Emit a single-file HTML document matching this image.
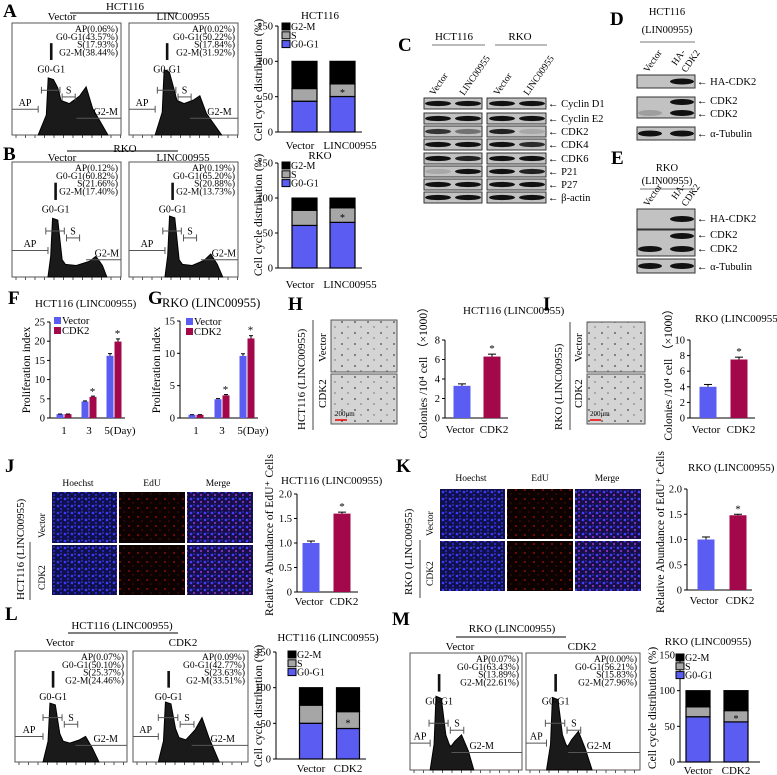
<!DOCTYPE html>
<html><head><meta charset="utf-8"><style>
html,body{margin:0;padding:0;background:#fff;}
svg{display:block;font-family:"Liberation Serif",serif;}
.pl{font-weight:bold;font-size:19px;}
.t{font-size:11px;}
.s{font-size:9.5px;}
.bl{fill:#c2c2c2;stroke:#333;stroke-width:1;}
</style></head><body>
<svg id="fig" width="777" height="775" viewBox="0 0 777 775" xmlns="http://www.w3.org/2000/svg">
<defs>
<pattern id="pBlue" width="7" height="7" patternUnits="userSpaceOnUse"><rect width="7" height="7" fill="#10104a"/><circle cx="2" cy="2" r="1.3" fill="#3a3aff"/><circle cx="5" cy="5" r="1.1" fill="#2828d0"/><circle cx="5" cy="1" r="0.8" fill="#4a4af0"/></pattern>
<pattern id="pRed" width="9" height="9" patternUnits="userSpaceOnUse"><rect width="9" height="9" fill="#0c0202"/><circle cx="3" cy="4" r="0.9" fill="#b01010"/><circle cx="7" cy="8" r="0.6" fill="#801010"/></pattern>
<pattern id="pMerge" width="7" height="7" patternUnits="userSpaceOnUse"><rect width="7" height="7" fill="#15104a"/><circle cx="2" cy="2" r="1.3" fill="#4a3aff"/><circle cx="5" cy="5" r="1.1" fill="#9030c0"/><circle cx="5" cy="1" r="0.8" fill="#3a3ae0"/></pattern>
<pattern id="pCol" width="13" height="11" patternUnits="userSpaceOnUse"><rect width="13" height="11" fill="#d4d4d4"/><circle cx="4" cy="3" r="0.9" fill="#444"/><circle cx="10" cy="8" r="0.7" fill="#666"/></pattern>
</defs>

<text class="pl" x="3" y="17">A</text>
<text class="pl" x="3" y="160">B</text>
<text class="pl" x="398" y="51">C</text>
<text class="pl" x="610" y="25">D</text>
<text class="pl" x="611" y="164">E</text>
<text class="pl" x="8" y="304">F</text>
<text class="pl" x="148" y="304">G</text>
<text class="pl" x="288" y="310">H</text>
<text class="pl" x="543" y="310">I</text>
<text class="pl" x="5" y="472">J</text>
<text class="pl" x="396" y="472">K</text>
<text class="pl" x="5" y="620">L</text>
<text class="pl" x="392" y="625">M</text>

<text class="t" x="125" y="10" text-anchor="middle">HCT116</text>
<line x1="70" y1="13" x2="178" y2="13" stroke="#000"/>
<text class="t" x="62" y="20" text-anchor="middle">Vector</text>
<text class="t" x="183" y="20" text-anchor="middle">LINC00955</text>
<text class="t" x="125" y="152" text-anchor="middle">RKO</text>
<line x1="67" y1="151" x2="178" y2="151" stroke="#000"/>
<text class="t" x="62" y="161" text-anchor="middle">Vector</text>
<text class="t" x="183" y="161" text-anchor="middle">LINC00955</text>

<text class="t" x="454" y="40" text-anchor="middle">HCT116</text>
<line x1="432" y1="45" x2="485" y2="45" stroke="#777"/>
<text class="t" x="520" y="40" text-anchor="middle">RKO</text>
<line x1="495" y1="45" x2="547" y2="45" stroke="#777"/>
<text class="s" transform="translate(434,96) rotate(-55)">Vector</text>
<text class="s" transform="translate(464,96) rotate(-55)">LINC00955</text>
<text class="s" transform="translate(498,96) rotate(-55)">Vector</text>
<text class="s" transform="translate(528,96) rotate(-55)">LINC00955</text>
<g id="cBlots"></g>

<text x="667" y="15" font-size="10.5" text-anchor="middle">HCT116</text>
<text x="667" y="33" font-size="10.5" text-anchor="middle">(LIN00955)</text>
<line x1="640" y1="42" x2="695" y2="42" stroke="#777"/>
<text class="s" transform="translate(648,73) rotate(-55)">Vector</text>
<text class="s" transform="translate(676,66) rotate(-55)">HA-</text>
<text class="s" transform="translate(686,73) rotate(-55)">CDK2</text>

<text x="667" y="171" font-size="10.5" text-anchor="middle">RKO</text>
<text x="667" y="184" font-size="10.5" text-anchor="middle">(LIN00955)</text>
<line x1="640" y1="189" x2="695" y2="189" stroke="#777"/>
<text class="s" transform="translate(648,207) rotate(-55)">Vector</text>
<text class="s" transform="translate(676,200) rotate(-55)">HA-</text>
<text class="s" transform="translate(686,207) rotate(-55)">CDK2</text>
<g id="deBlots"></g>

<text class="t" transform="translate(305,430) rotate(-90)">HCT116 (LINC00955)</text>
<line x1="313" y1="320" x2="313" y2="430" stroke="#444"/>
<text class="t" transform="translate(326,362) rotate(-90)">Vector</text>
<text class="t" transform="translate(326,408) rotate(-90)">CDK2</text>
<rect x="331" y="320" width="66" height="52" fill="url(#pCol)" stroke="#555"/>
<rect x="331" y="374" width="66" height="50" fill="url(#pCol)" stroke="#555"/>
<line x1="335" y1="420" x2="347" y2="420" stroke="#e00" stroke-width="1.5"/>
<text x="335" y="416" font-size="7">200μm</text>
<text class="t" transform="translate(562,430) rotate(-90)">RKO (LINC00955)</text>
<line x1="570" y1="322" x2="570" y2="430" stroke="#444"/>
<text class="t" transform="translate(582,362) rotate(-90)">Vector</text>
<text class="t" transform="translate(582,408) rotate(-90)">CDK2</text>
<rect x="587" y="322" width="58" height="50" fill="url(#pCol)" stroke="#555"/>
<rect x="587" y="374" width="58" height="50" fill="url(#pCol)" stroke="#555"/>
<line x1="590" y1="420" x2="601" y2="420" stroke="#e00" stroke-width="1.5"/>
<text x="590" y="416" font-size="7">200μm</text>

<text class="s" x="78" y="486" text-anchor="middle">Hoechst</text>
<text class="s" x="152" y="486" text-anchor="middle">EdU</text>
<text class="s" x="218" y="486" text-anchor="middle">Merge</text>
<rect x="52" y="492" width="65" height="51" fill="url(#pBlue)"/>
<rect x="119" y="492" width="66" height="51" fill="url(#pRed)"/>
<rect x="187" y="492" width="66" height="51" fill="url(#pMerge)"/>
<rect x="52" y="545" width="65" height="50" fill="url(#pBlue)"/>
<rect x="119" y="545" width="66" height="50" fill="url(#pRed)"/>
<rect x="187" y="545" width="66" height="50" fill="url(#pMerge)"/>
<text class="t" transform="translate(24,600) rotate(-90)">HCT116 (LINC00955)</text>
<line x1="30" y1="542" x2="30" y2="600" stroke="#444"/>
<text class="s" transform="translate(45,538) rotate(-90)">Vector</text>
<text class="s" transform="translate(45,590) rotate(-90)">CDK2</text>
<text class="s" x="471" y="481" text-anchor="middle">Hoechst</text>
<text class="s" x="540" y="481" text-anchor="middle">EdU</text>
<text class="s" x="607" y="481" text-anchor="middle">Merge</text>
<rect x="440" y="489" width="65" height="50" fill="url(#pBlue)"/>
<rect x="507" y="489" width="66" height="50" fill="url(#pRed)"/>
<rect x="575" y="489" width="66" height="50" fill="url(#pMerge)"/>
<rect x="440" y="541" width="65" height="50" fill="url(#pBlue)"/>
<rect x="507" y="541" width="66" height="50" fill="url(#pRed)"/>
<rect x="575" y="541" width="66" height="50" fill="url(#pMerge)"/>
<text class="t" transform="translate(412,595) rotate(-90)">RKO (LINC00955)</text>
<line x1="420" y1="540" x2="420" y2="598" stroke="#444"/>
<text class="s" transform="translate(433,536) rotate(-90)">Vector</text>
<text class="s" transform="translate(433,586) rotate(-90)">CDK2</text>

<text class="t" x="122" y="629" text-anchor="middle">HCT116 (LINC00955)</text>
<line x1="68" y1="633" x2="178" y2="633" stroke="#000"/>
<text class="t" x="60" y="646" text-anchor="middle">Vector</text>
<text class="t" x="183" y="646" text-anchor="middle">CDK2</text>
<text class="t" x="512" y="632" text-anchor="middle">RKO (LINC00955)</text>
<line x1="456" y1="637" x2="566" y2="637" stroke="#000"/>
<text class="t" x="460" y="650" text-anchor="middle">Vector</text>
<text class="t" x="582" y="650" text-anchor="middle">CDK2</text>

<g id="charts"></g>
</svg>
<script>
const stackCats = ['G2-M','S','G0-G1'];
const stackTicks = [0,50,100,150];
const aXLabels = ['Vector','LINC00955'];
const aG01 = [43.57,50.22], aS = [17.93,17.84], aG2M = [38.44,31.92];
const bG01 = [60.82,65.20], bS = [21.66,20.88], bG2M = [17.40,13.73];
const lXLabels = ['Vector','CDK2'];
const lG01 = [50.10,42.77], lS = [25.37,23.63], lG2M = [24.46,33.51];
const mG01 = [63.43,56.21], mS = [13.89,15.83], mG2M = [22.61,27.96];
const daysLabels = ['1','3','5(Day)'];
const fVector = [1.0,4.3,16.2], fCDK2 = [1.0,5.5,19.9], fTicks = [0,5,10,15,20,25];
const gVector = [0.5,2.9,9.6], gCDK2 = [0.5,3.5,12.3], gTicks = [0,5,10,15];
const hVals = [3.3,6.3], hErr = [0.2,0.25], hTicks = [0,2,4,6,8];
const iVals = [4.0,7.5], iErr = [0.3,0.3], iTicks = [0,2,4,6,8,10];
const jVals = [1.0,1.6], jErr = [0.04,0.03], jTicks = [0,0.5,1.0,1.5,2.0];
const kVals = [1.0,1.48], kErr = [0.05,0.02], kTicks = [0,0.5,1.0,1.5,2.0];
const aStats = [['AP(0.06%)','G0-G1(43.57%)','S(17.93%)','G2-M(38.44%)'],['AP(0.02%)','G0-G1(50.22%)','S(17.84%)','G2-M(31.92%)']];
const bStats = [['AP(0.12%)','G0-G1(60.82%)','S(21.66%)','G2-M(17.40%)'],['AP(0.19%)','G0-G1(65.20%)','S(20.88%)','G2-M(13.73%)']];
const lStats = [['AP(0.07%)','G0-G1(50.10%)','S(25.37%)','G2-M(24.46%)'],['AP(0.09%)','G0-G1(42.77%)','S(23.63%)','G2-M(33.51%)']];
const mStats = [['AP(0.07%)','G0-G1(63.43%)','S(13.89%)','G2-M(22.61%)'],['AP(0.00%)','G0-G1(56.21%)','S(15.83%)','G2-M(27.96%)']];
const cProteins = ['Cyclin D1','Cyclin E2','CDK2','CDK4','CDK6','P21','P27','β-actin'];
const cBands = [[1,1,1,1],[1,1,1,1],[0.8,0.45,0.9,0.15],[1,1,1,0.85],[1,0.9,1,1],[0.15,1,1,0.9],[1,1,1,1],[1,1,1,1]];

const BLUE = '#5a5cf2', RED = '#a3084b';
const NS = 'http://www.w3.org/2000/svg';
const root = document.getElementById('charts');
function mk(tag, a, p) { const e = document.createElementNS(NS, tag); for (const k in a) e.setAttribute(k, a[k]); (p || root).appendChild(e); return e; }

function hist(box, sh, stats, nm) {
  const {x, y, w, h} = box, b = y + h;
  const X = f => x + f * w, Y = f => b - f * h;
  let e = mk('rect', {x, y, width: w, height: h, fill: '#fff', stroke: '#555'});
  
  
  for (let t = x + 4; t < x + w; t += 9.5) mk('line', {x1: t, y1: b, x2: t, y2: b + 3, stroke: '#555'});
  const p1 = sh.p1, p2 = sh.p2, v = sh.v;
  const pts = [[sh.s, 0], [p1 - 0.045, sh.h1 * 0.35], [p1 - 0.028, sh.h1], [p1 + 0.02, sh.h1 * 0.97], [p1 + 0.06, v * 1.5], [p1 + 0.09, v * 1.1], [(p1 + p2) / 2, v], [p2 - 0.07, v + (sh.h2 - v) * 0.45], [p2 - 0.01, sh.h2], [p2 + 0.05, sh.h2 * 0.55], [sh.e, 0]];
  e = mk('path', {d: 'M' + pts.map(q => X(q[0]) + ',' + Y(q[1])).join('L') + 'Z', fill: '#1a1a1a', stroke: '#000'});
  
  
  e = mk('rect', {x: X(p1) - 1.3, y: y + 0.18 * h, width: 2.6, height: 0.15 * h, fill: '#111'});
  
  
  e = mk('text', {x: X(p1), y: y + 0.44 * h, 'text-anchor': 'middle', 'font-size': 10});
  e.textContent = 'G0-G1';
  
  
  const g = '#555';
  mk('line', {x1: x, y1: Y(.23), x2: X(sh.s), y2: Y(.23), stroke: g});
  mk('line', {x1: X(sh.s), y1: Y(.26), x2: X(sh.s), y2: Y(.20), stroke: g});
  e = mk('text', {x: (x + X(sh.s)) / 2, y: Y(.26), 'text-anchor': 'middle', 'font-size': 10});
  e.textContent = 'AP';
  
  
  mk('line', {x1: X(p1 - .09), y1: Y(.4), x2: X(p1 + .08), y2: Y(.4), stroke: g});
  mk('line', {x1: X(p1 - .09), y1: Y(.43), x2: X(p1 - .09), y2: Y(.37), stroke: g});
  mk('line', {x1: X(p1 + .08), y1: Y(.43), x2: X(p1 + .08), y2: Y(.37), stroke: g});
  mk('line', {x1: X(p1 + .1), y1: Y(.34), x2: X(p1 + .22), y2: Y(.34), stroke: g});
  mk('line', {x1: X(p1 + .1), y1: Y(.37), x2: X(p1 + .1), y2: Y(.31), stroke: g});
  mk('line', {x1: X(p1 + .22), y1: Y(.37), x2: X(p1 + .22), y2: Y(.31), stroke: g});
  e = mk('text', {x: X(p1 + .16), y: Y(.37), 'text-anchor': 'middle', 'font-size': 10});
  e.textContent = 'S';
  
  
  mk('line', {x1: X(p2 - .1), y1: Y(.15), x2: x + w, y2: Y(.15), stroke: g});
  e = mk('text', {x: X(Math.min(p2 + .17, .87)), y: Y(.18), 'text-anchor': 'middle', 'font-size': 10});
  e.textContent = 'G2-M';
  
  
  stats.forEach((s, i) => {
    const t = mk('text', {x: x + w - 3, y: y + 9 + i * 7.8, 'text-anchor': 'end', 'font-size': 9.5});
    t.textContent = s;
    
    
  });
}
hist({x: 12, y: 23, w: 109, h: 112}, {s: .24, p1: .36, h1: .51, v: .28, p2: .69, h2: .43, e: .88}, aStats[0], 'a-vector');
hist({x: 129, y: 23, w: 109, h: 112}, {s: .24, p1: .35, h1: .58, v: .28, p2: .66, h2: .35, e: .85}, aStats[1], 'a-linc');
hist({x: 12, y: 162, w: 109, h: 115}, {s: .33, p1: .40, h1: .51, v: .1, p2: .78, h2: .18, e: .87}, bStats[0], 'b-vector');
hist({x: 129, y: 162, w: 109, h: 115}, {s: .33, p1: .40, h1: .53, v: .1, p2: .76, h2: .2, e: .86}, bStats[1], 'b-linc');
hist({x: 15, y: 651, w: 112, h: 111}, {s: .25, p1: .34, h1: .53, v: .17, p2: .64, h2: .23, e: .75}, lStats[0], 'l-vector');
hist({x: 133, y: 651, w: 115, h: 111}, {s: .22, p1: .31, h1: .54, v: .2, p2: .61, h2: .4, e: .75}, lStats[1], 'l-cdk2');
hist({x: 410, y: 653, w: 112, h: 117}, {s: .18, p1: .26, h1: .63, v: .2, p2: .47, h2: .3, e: .57}, mStats[0], 'm-vector');
hist({x: 526, y: 653, w: 114, h: 117}, {s: .18, p1: .26, h1: .62, v: .2, p2: .47, h2: .33, e: .58}, mStats[1], 'm-cdk2');

function yAxis(o, ticks, vmax, nm) {
  const sy = v => o.y0 - (o.y0 - o.yTop) * v / vmax;
  let e = mk('line', {x1: o.ax, y1: o.y0, x2: o.ax, y2: sy(ticks[ticks.length - 1]), stroke: '#000'});
  
  
  ticks.forEach(t => {
    mk('line', {x1: o.ax - 3, y1: sy(t), x2: o.ax, y2: sy(t), stroke: '#000'});
    const l = mk('text', {x: o.ax - 5, y: sy(t) + 3.5, 'text-anchor': 'end', 'font-size': 10.5});
    l.textContent = (o.dec ? t.toFixed(1) : t);
    if (t === 0) l.textContent = '0';
    
    
  });
  e = mk('line', {x1: o.ax, y1: o.y0, x2: o.xEnd, y2: o.y0, stroke: '#000'});
  
  
  if (o.title) {
    e = mk('text', {x: o.tx, y: o.ty, 'font-size': o.tfs || 11, 'text-anchor': o.tanchor || 'start'});
    e.textContent = o.title;
    
    
  }
  e = mk('text', {transform: 'translate(' + o.ylx + ',' + o.yly + ') rotate(-90)', 'text-anchor': 'middle', 'font-size': 11.5});
  e.textContent = o.ytitle;
  
  
  return sy;
}
function xLabels(labels, xs, y, nm) {
  labels.forEach((s, i) => {
    const e = mk('text', {x: xs[i], y, 'text-anchor': 'middle', 'font-size': 11});
    e.textContent = s;
    
    
  });
}

function stacked(o, g01, s, g2m, labels, nm) {
  const sy = yAxis(o, stackTicks, 150, nm);
  const fills = {'G0-G1': BLUE, 'S': '#a6a6a6', 'G2-M': '#000'};
  g01.forEach((v, i) => {
    const cx = o.cx[i], x = cx - o.bw / 2;
    let base = 0;
    [['G0-G1', g01[i]], ['S', s[i]], ['G2-M', g2m[i]]].forEach(([k, val]) => {
      const r = mk('rect', {x, y: sy(base + val), width: o.bw, height: sy(base) - sy(base + val), fill: fills[k], stroke: '#000', 'stroke-width': 1.2});
      
      
      base += val;
    });
  });
  const st = mk('text', {x: o.cx[1], y: sy(g01[1] + s[1] * 0.35) + 4, 'text-anchor': 'middle', 'font-size': 10});
  st.textContent = '*';
  
  
  stackCats.forEach((c, i) => {
    const r = mk('rect', {x: o.lx, y: o.ly + i * 8.8, width: 8, height: 7, fill: fills[c], stroke: '#000'});
    
    
    const t = mk('text', {x: o.lx + 9, y: o.ly + i * 8.8 + 7, 'font-size': 10});
    t.textContent = c;
    
    
  });
  xLabels(labels, o.lxs || o.cx, o.xly, nm);
}
stacked({ax: 278, y0: 132, yTop: 26, xEnd: 362, cx: [304.5, 342.5], bw: 25, title: 'HCT116', tx: 320, ty: 19, tanchor: 'middle', ylx: 262, yly: 80, ytitle: 'Cell cycle distribution (%)', lx: 282, ly: 23, xly: 149, lxs: [300, 350]}, aG01, aS, aG2M, aXLabels, 'a');
stacked({ax: 278, y0: 268, yTop: 163, xEnd: 362, cx: [304.5, 342.5], bw: 25, title: 'RKO', tx: 320, ty: 159, tanchor: 'middle', ylx: 262, yly: 215, ytitle: 'Cell cycle distribution (%)', lx: 282, ly: 162, xly: 288, lxs: [300, 350]}, bG01, bS, bG2M, aXLabels, 'b');
stacked({ax: 276, y0: 759, yTop: 652, xEnd: 366, cx: [311, 348], bw: 23, title: 'HCT116 (LINC00955)', tx: 328, ty: 641, tanchor: 'middle', ylx: 262, yly: 706, ytitle: 'Cell cycle distribution (%)', lx: 288, ly: 651, xly: 772}, lG01, lS, lG2M, lXLabels, 'l');
stacked({ax: 680, y0: 762, yTop: 655, xEnd: 760, cx: [698, 736], bw: 24, title: 'RKO (LINC00955)', tx: 708, ty: 645, tanchor: 'middle', ylx: 656, yly: 708, ytitle: 'Cell cycle distribution (%)', lx: 676, ly: 654, xly: 774}, mG01, mS, mG2M, lXLabels, 'm');

function grouped(o, ticks, vmax, vec, cdk, nm) {
  const sy = yAxis(o, ticks, vmax, nm);
  vec.forEach((v, i) => {
    [[v, BLUE, -1, 'vector'], [cdk[i], RED, 1, 'cdk2']].forEach(([val, col, sgn, k]) => {
      const x = o.gx[i] + (sgn < 0 ? -o.bw - 0.5 : 0.5);
      const r = mk('rect', {x, y: sy(val), width: o.bw, height: o.y0 - sy(val), fill: col});
      
      
      const eb = mk('line', {x1: x + o.bw / 2, y1: sy(val * 1.035), x2: x + o.bw / 2, y2: sy(val), stroke: '#000'});
      
      
      mk('line', {x1: x + 1.5, y1: sy(val * 1.035), x2: x + o.bw - 1.5, y2: sy(val * 1.035), stroke: '#000'});
    });
    if (i > 0) {
      const st = mk('text', {x: o.gx[i] + o.bw / 2, y: sy(cdk[i] * 1.05) - 1, 'text-anchor': 'middle', 'font-size': 11});
      st.textContent = '*';
      
      
    }
  });
  [['Vector', BLUE], ['CDK2', RED]].forEach(([lab, col], i) => {
    const r = mk('rect', {x: o.lx, y: o.ly + i * 10, width: 7, height: 7, fill: col});
    
    
    const t = mk('text', {x: o.lx + 8, y: o.ly + i * 10 + 7, 'font-size': 10.5});
    t.textContent = lab;
    
    
  });
  xLabels(daysLabels, o.gx.map((g, i) => i === 2 ? g + 6 : g), 434, nm);
}
grouped({ax: 50, y0: 418, yTop: 322, xEnd: 125, gx: [64, 89, 114], bw: 7, title: 'HCT116 (LINC00955)', tx: 35, ty: 307, ylx: 30, yly: 370, ytitle: 'Proliferation index', lx: 54, ly: 317}, fTicks, 25, fVector, fCDK2, 'f');
grouped({ax: 180, y0: 418, yTop: 321, xEnd: 258, gx: [196, 222, 247], bw: 7, title: 'RKO (LINC00955)', tx: 162, ty: 307, tfs: 12.5, ylx: 160, yly: 370, ytitle: 'Proliferation index', lx: 186, ly: 318}, gTicks, 15, gVector, gCDK2, 'g');

function twoBar(o, ticks, vals, errs, nm) {
  const vmax = ticks[ticks.length - 1];
  const sy = yAxis(o, ticks, vmax, nm);
  [BLUE, RED].forEach((col, i) => {
    const x = o.cx[i] - o.bw / 2;
    const r = mk('rect', {x, y: sy(vals[i]), width: o.bw, height: o.y0 - sy(vals[i]), fill: col});
    
    
    const eb = mk('line', {x1: o.cx[i], y1: sy(vals[i] + errs[i]), x2: o.cx[i], y2: sy(vals[i]), stroke: '#000'});
    
    
    mk('line', {x1: o.cx[i] - 4, y1: sy(vals[i] + errs[i]), x2: o.cx[i] + 4, y2: sy(vals[i] + errs[i]), stroke: '#000'});
  });
  const st = mk('text', {x: o.cx[1], y: sy(vals[1] + errs[1]) - 2, 'text-anchor': 'middle', 'font-size': 11});
  st.textContent = '*';
  
  
  xLabels(lXLabels, [o.cx[0] - 2, o.cx[1] + 2], o.xly, nm);
}
twoBar({ax: 445, y0: 418, yTop: 340, xEnd: 508, cx: [462, 492], bw: 17, title: 'HCT116 (LINC00955)', tx: 463, ty: 314, ylx: 427, yly: 370, ytitle: 'Colonies /10⁴ cell （×1000）', xly: 433}, hTicks, hVals, hErr, 'h');
twoBar({ax: 690, y0: 418, yTop: 340, xEnd: 755, cx: [708, 739], bw: 17, title: 'RKO (LINC00955)', tx: 695, ty: 322, ylx: 672, yly: 372, ytitle: 'Colonies /10⁴ cell （×1000）', xly: 433}, iTicks, iVals, iErr, 'i');
twoBar({ax: 297, y0: 592, yTop: 494, xEnd: 358, cx: [311, 342], bw: 17, dec: true, title: 'HCT116 (LINC00955)', tx: 281, ty: 484, ylx: 273, yly: 535, ytitle: 'Relative Abundance of EdU⁺ Cells', xly: 605}, jTicks, jVals, jErr, 'j');
twoBar({ax: 687, y0: 590, yTop: 489, xEnd: 752, cx: [706, 738], bw: 17, dec: true, title: 'RKO (LINC00955)', tx: 688, ty: 471, ylx: 664, yly: 532, ytitle: 'Relative Abundance of EdU⁺ Cells', xly: 604}, kTicks, kVals, kErr, 'k');

const cb = document.getElementById('cBlots');
const cRowY = [98, 113, 126, 139, 153, 166, 179, 192];
const cLaneX = [438, 468, 502, 532];
cProteins.forEach((p, r) => {
  [[424, 58], [487, 59]].forEach(([bx, bw], side) => {
    const e = mk('rect', {x: bx, y: cRowY[r], width: bw, height: 11, class: 'bl'}, cb);
    
    
  });
  cBands[r].forEach((a, l) => {
    const e = mk('ellipse', {cx: cLaneX[l], cy: cRowY[r] + 5.5, rx: 13, ry: 2.6, fill: '#111', opacity: a}, cb);
    
    
  });
  const t = mk('text', {x: 548, y: cRowY[r] + 9, 'font-size': 10.5}, cb);
  t.textContent = '← ' + p;
  
  
});
const db = document.getElementById('deBlots');
function blotBox(y, h, bands, nm) {
  const e = mk('rect', {x: 637, y, width: 58, height: h, class: 'bl'}, db);
  
  
  bands.forEach(([lx, cy, a]) => mk('ellipse', {cx: lx, cy, rx: 12, ry: 3, fill: '#111', opacity: a}, db));
}
function blotLabel(y, s, nm) {
  const t = mk('text', {x: 697, y, 'font-size': 10.5}, db);
  t.textContent = '← ' + s;
  
  
}
blotBox(75, 13, [[682, 81.5, 1]], 'd-blot-ha-cdk2');
blotBox(97, 21, [[682, 102, 1], [682, 113, 1], [650, 113, 0.2]], 'd-blot-cdk2');
blotBox(127, 13, [[650, 133.5, 1], [682, 133.5, 1]], 'd-blot-tubulin');
blotLabel(85, 'HA-CDK2', 'd-label-ha-cdk2');
blotLabel(104, 'CDK2', 'd-label-cdk2-upper');
blotLabel(117, 'CDK2', 'd-label-cdk2-lower');
blotLabel(137, 'α-Tubulin', 'd-label-tubulin');
blotBox(209, 20, [[682, 219, 1]], 'e-blot-ha-cdk2');
blotBox(230, 26, [[682, 236, 1], [650, 249, 1], [682, 249, 1]], 'e-blot-cdk2');
blotBox(259, 14, [[650, 266, 1], [682, 266, 1]], 'e-blot-tubulin');
blotLabel(222, 'HA-CDK2', 'e-label-ha-cdk2');
blotLabel(238, 'CDK2', 'e-label-cdk2-upper');
blotLabel(252, 'CDK2', 'e-label-cdk2-lower');
blotLabel(270, 'α-Tubulin', 'e-label-tubulin');
</script>
</body></html>
